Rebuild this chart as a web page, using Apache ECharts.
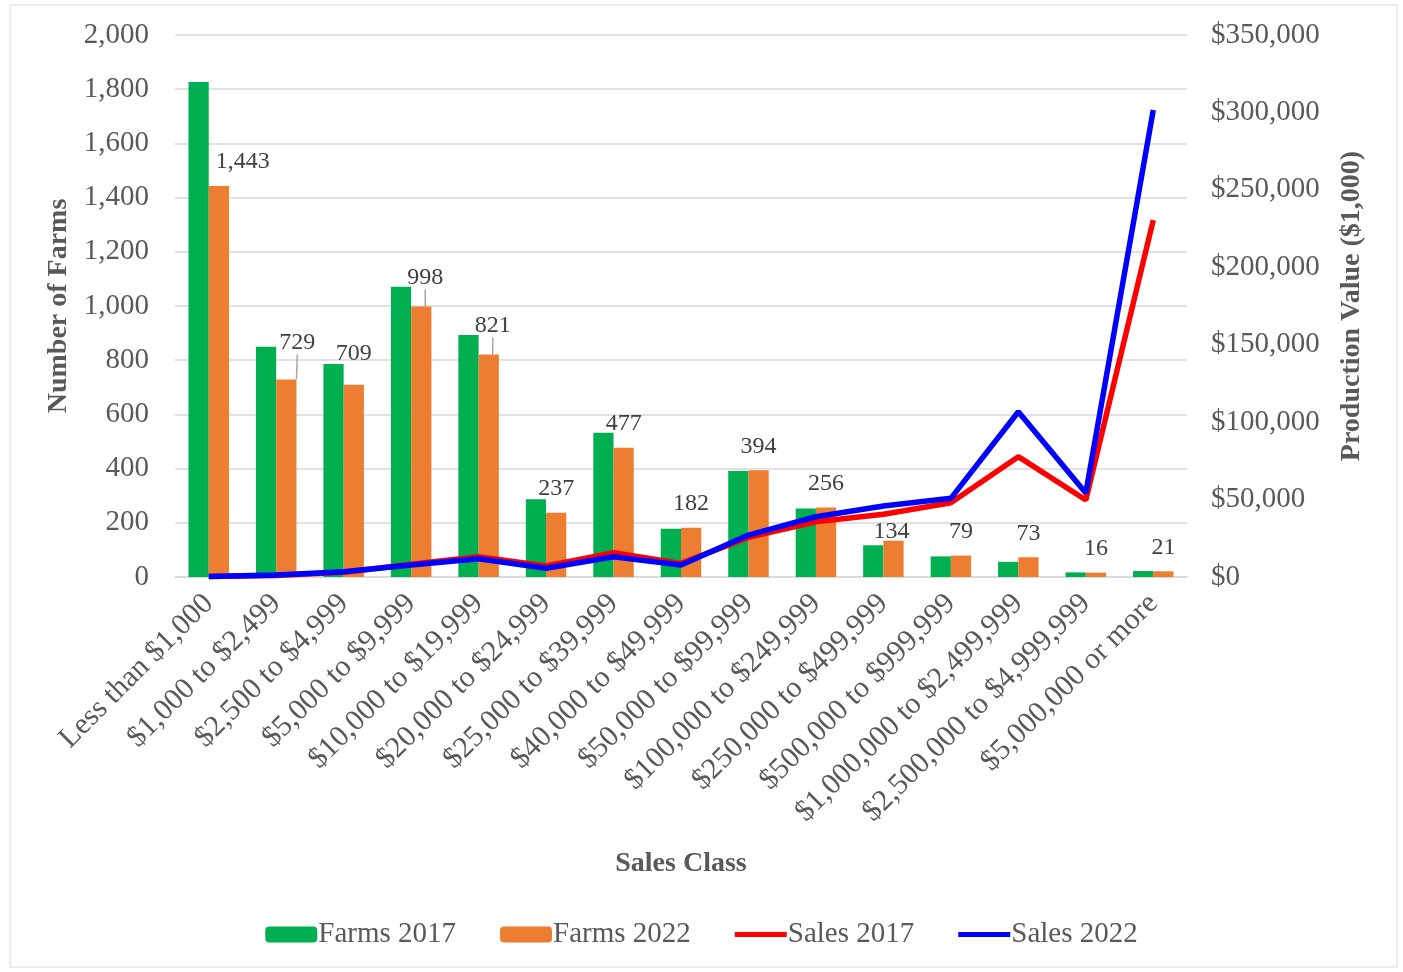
<!DOCTYPE html>
<html>
<head>
<meta charset="utf-8">
<script src="https://cdn.jsdelivr.net/npm/echarts@6/dist/echarts.min.js"></script>
<style>
  html, body { margin: 0; padding: 0; background: #fff; }
  #chart { width: 1403px; height: 972px; }
</style>
</head>
<body>
<div id="chart"></div>
<script>
// sales class chart: farms (bars) vs production value (lines)
var categories = ['Less than $1,000', '$1,000 to $2,499', '$2,500 to $4,999', '$5,000 to $9,999',
  '$10,000 to $19,999', '$20,000 to $24,999', '$25,000 to $39,999', '$40,000 to $49,999',
  '$50,000 to $99,999', '$100,000 to $249,999', '$250,000 to $499,999', '$500,000 to $999,999',
  '$1,000,000 to $2,499,999', '$2,500,000 to $4,999,999', '$5,000,000 or more'];
var farms2017 = [1827, 850, 786, 1071, 893, 287, 532, 178, 391, 253, 117, 76, 56, 17, 22];
var farms2022 = [1443, 729, 709, 998, 821, 237, 477, 182, 394, 256, 134, 79, 73, 16, 21];
var sales2017 = [300, 1000, 3000, 8200, 13100, 7100, 15700, 8800, 25600, 35700, 40500, 48000, 77700, 49700, 230500];
var sales2022 = [300, 1300, 3400, 7750, 11800, 5600, 13100, 7750, 27100, 38900, 45800, 50800, 106700, 54240, 301560];

var font = 'Liberation Serif';
var grey = '#595959';

// label nudges for the 2022 farm labels [dx, dy], and which ones get a leader line
var nudge = {0: [24, 0], 1: [11, -13], 2: [0, -7], 3: [4, -5], 4: [4, -5], 10: [-2, 15]};
var leaders = [1, 3, 4];

var lineIcon = 'path://M0,0 L52,0 L52,5 L0,5 Z';

var chart = echarts.init(document.getElementById('chart'));

var option = {
  backgroundColor: '#fff',
  graphic: [{
    type: 'rect',
    shape: {x: 10, y: 5, width: 1387, height: 962},
    style: {fill: 'none', stroke: '#d9d9d9', lineWidth: 1}
  }],
  grid: {left: 175, right: 216, top: 35, bottom: 395},
  legend: {
    bottom: 18,
    left: 'center',
    itemWidth: 52,
    itemHeight: 16,
    itemGap: 44,
    textStyle: {fontFamily: font, fontSize: 29, color: grey, padding: [0, 0, 0, -4]},
    data: [
      {name: 'Farms 2017'},
      {name: 'Farms 2022'},
      {name: 'Sales 2017', icon: lineIcon},
      {name: 'Sales 2022', icon: lineIcon}
    ]
  },
  xAxis: {
    type: 'category',
    data: categories,
    name: 'Sales Class',
    nameLocation: 'middle',
    nameGap: 273,
    nameTextStyle: {fontFamily: font, fontSize: 28, fontWeight: 'bold', color: grey},
    axisLine: {lineStyle: {color: '#d9d9d9', width: 1.5}},
    axisTick: {show: false},
    axisLabel: {interval: 0, rotate: 45, margin: 22, fontFamily: font, fontSize: 30, color: grey}
  },
  yAxis: [
    {
      type: 'value',
      min: 0, max: 2000, interval: 200,
      name: 'Number of Farms',
      nameLocation: 'middle',
      nameRotate: 90,
      nameGap: 102,
      nameTextStyle: {fontFamily: font, fontSize: 28, fontWeight: 'bold', color: grey},
      axisLabel: {
        fontFamily: font, fontSize: 29, color: grey, margin: 26,
        formatter: function (v) { return v.toLocaleString('en-US'); }
      },
      splitLine: {lineStyle: {color: '#d9d9d9', width: 1.5}}
    },
    {
      type: 'value',
      min: 0, max: 350000, interval: 50000,
      name: 'Production Value ($1,000)',
      nameLocation: 'middle',
      nameRotate: 90,
      nameGap: 151,
      nameTextStyle: {fontFamily: font, fontSize: 28, fontWeight: 'bold', color: grey},
      axisLabel: {
        fontFamily: font, fontSize: 29, color: grey, margin: 24,
        formatter: function (v) { return '$' + v.toLocaleString('en-US'); }
      },
      splitLine: {show: false}
    }
  ],
  series: [
    {
      name: 'Farms 2017',
      type: 'bar',
      barWidth: '30%',
      barGap: '0%',
      itemStyle: {color: '#00B050'},
      data: farms2017
    },
    {
      name: 'Farms 2022',
      type: 'bar',
      barWidth: '30%',
      itemStyle: {color: '#ED7D31'},
      label: {
        show: true,
        position: 'top',
        distance: 12,
        fontFamily: font,
        fontSize: 24,
        color: '#404040',
        formatter: function (p) { return p.value.toLocaleString('en-US'); }
      },
      labelLine: {show: false, lineStyle: {color: '#a6a6a6', width: 1.5}},
      labelLayout: function (params) {
        var n = nudge[params.dataIndex];
        if (!n) return {};
        return {dx: n[0], dy: n[1]};
      },
      data: farms2022.map(function (v, i) {
        return {value: v, labelLine: {show: leaders.indexOf(i) >= 0}};
      })
    },
    {
      name: 'Sales 2017',
      type: 'line',
      yAxisIndex: 1,
      symbol: 'none',
      lineStyle: {color: '#FF0000', width: 5.5},
      itemStyle: {color: '#FF0000'},
      data: sales2017
    },
    {
      name: 'Sales 2022',
      type: 'line',
      yAxisIndex: 1,
      symbol: 'none',
      lineStyle: {color: '#0000FF', width: 5.5},
      itemStyle: {color: '#0000FF'},
      data: sales2022
    }
  ]
};

chart.setOption(option);
</script>
</body>
</html>
